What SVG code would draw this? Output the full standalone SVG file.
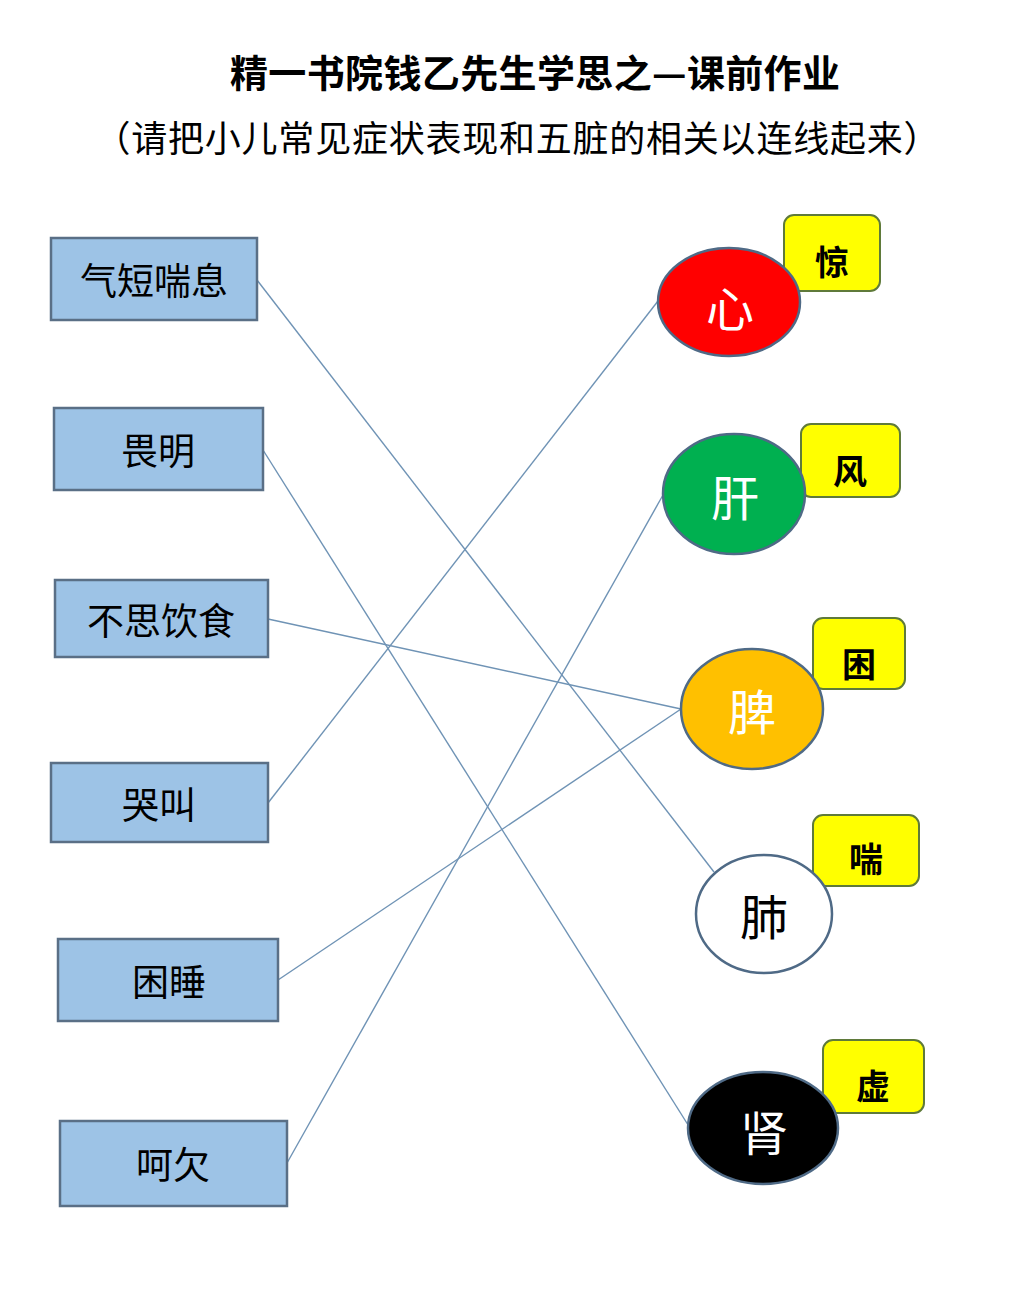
<svg xmlns="http://www.w3.org/2000/svg" width="1010" height="1314" viewBox="0 0 1010 1314">
<style>
.title{font-family:"Noto Sans CJK SC","Noto Sans CJK JP",sans-serif;font-size:38px;font-weight:bold;fill:#000;text-anchor:middle}
.sub{font-family:"Noto Sans CJK SC","Noto Sans CJK JP",sans-serif;font-size:36px;fill:#000;text-anchor:middle}
.box{fill:#9DC3E6;stroke:#5a6f86;stroke-width:2.5}
.lbl{font-family:"Noto Sans CJK SC","Noto Sans CJK JP",sans-serif;font-size:37px;fill:#000;text-anchor:middle;dominant-baseline:central}
.tag{fill:#FFFF00;stroke:#5f7a3a;stroke-width:2}
.tagt{font-family:"Noto Sans CJK SC","Noto Sans CJK JP",sans-serif;font-size:34px;font-weight:bold;fill:#000;text-anchor:middle;dominant-baseline:central}
.org{stroke:#4f6a86;stroke-width:2.5}
.orgt{font-family:"Noto Sans CJK SC","Noto Sans CJK JP",sans-serif;font-size:48px;text-anchor:middle;dominant-baseline:central}
.conn line{stroke:#6f93b5;stroke-width:1.4}
</style>
<rect width="1010" height="1314" fill="#fff"/>
<text class="title" x="535" y="87" textLength="610" lengthAdjust="spacing">精一书院钱乙先生学思之—课前作业</text>
<text class="sub" x="517" y="152" textLength="845" lengthAdjust="spacing">（请把小儿常见症状表现和五脏的相关以连线起来）</text>

<g class="conn" id="connectors">
<line x1="257" y1="280" x2="714" y2="872"/>
<line x1="263" y1="450" x2="690" y2="1128"/>
<line x1="268" y1="619" x2="681" y2="709"/>
<line x1="268" y1="803" x2="658" y2="301"/>
<line x1="278" y1="980" x2="681" y2="709"/>
<line x1="287" y1="1163" x2="663" y2="495"/>
</g>

<g id="s1"><rect class="box" x="51" y="238" width="206" height="82"/><text class="lbl" x="154" y="279">气短喘息</text></g>
<g id="s2"><rect class="box" x="54" y="408" width="209" height="82"/><text class="lbl" x="158" y="449">畏明</text></g>
<g id="s3"><rect class="box" x="55" y="580" width="213" height="77"/><text class="lbl" x="161" y="619">不思饮食</text></g>
<g id="s4"><rect class="box" x="51" y="763" width="217" height="79"/><text class="lbl" x="159" y="803">哭叫</text></g>
<g id="s5"><rect class="box" x="58" y="939" width="220" height="82"/><text class="lbl" x="169" y="980">困睡</text></g>
<g id="s6"><rect class="box" x="60" y="1121" width="227" height="85"/><text class="lbl" x="173" y="1163">呵欠</text></g>

<g id="heart"><rect class="tag" x="784" y="215" width="96" height="76" rx="10"/><text class="tagt" x="832" y="260">惊</text>
<ellipse class="org" cx="729" cy="302" rx="71" ry="54" fill="#FF0000" stroke="#7a5570"/><text class="orgt" x="730" y="306" fill="#fff">心</text></g>
<g id="liver"><rect class="tag" x="801" y="424" width="99" height="73" rx="10"/><text class="tagt" x="850" y="469">风</text>
<ellipse class="org" cx="734" cy="494" rx="71" ry="60" fill="#00B050"/><text class="orgt" x="735" y="495" fill="#fff">肝</text></g>
<g id="spleen"><rect class="tag" x="813" y="618" width="92" height="71" rx="10"/><text class="tagt" x="859" y="662">困</text>
<ellipse class="org" cx="752" cy="709" rx="71" ry="60" fill="#FFC000" stroke="#6b6b3a"/><text class="orgt" x="752" y="709" fill="#fff">脾</text></g>
<g id="lung"><rect class="tag" x="813" y="815" width="106" height="71" rx="10"/><text class="tagt" x="866" y="857">喘</text>
<ellipse class="org" cx="764" cy="914" rx="68" ry="59" fill="#fff"/><text class="orgt" x="764" y="914" fill="#000">肺</text></g>
<g id="kidney"><rect class="tag" x="823" y="1040" width="101" height="73" rx="10"/><text class="tagt" x="873" y="1084">虚</text>
<ellipse class="org" cx="763" cy="1128" rx="75" ry="56" fill="#000"/><text class="orgt" x="764" y="1130" fill="#fff">肾</text></g>
</svg>
